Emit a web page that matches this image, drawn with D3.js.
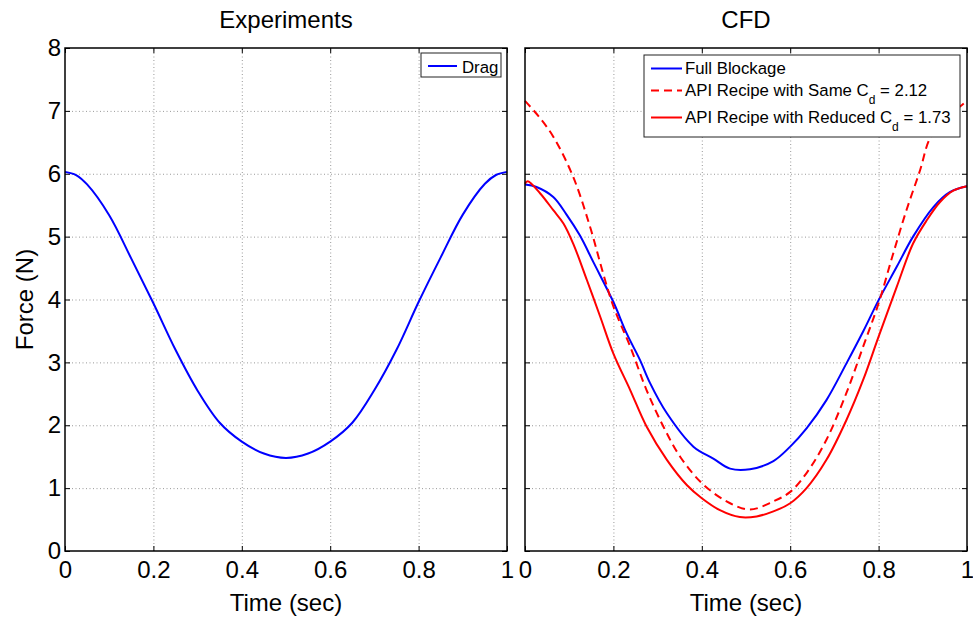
<!DOCTYPE html>
<html>
<head>
<meta charset="utf-8">
<script src="https://cdn.jsdelivr.net/npm/d3@7"></script>
<style>
  body { margin: 0; background: #fff; }
  svg { font-family: "Liberation Sans", Arial, sans-serif; }
  .grid line { stroke: #999; stroke-dasharray: 1,2.5; }
  .grid path { display: none; }
  .ax path { display: none; }
  .ax line { stroke: #000; }
  .ax text { font-size: 24px; fill: #000; }
</style>
</head>
<body>
<svg class="chart" width="973" height="620"></svg>
<script>
// ---- data ----
var expTime = [0, 0.025, 0.05, 0.1, 0.15, 0.2, 0.25, 0.3, 0.35, 0.4, 0.45, 0.5,
               0.55, 0.6, 0.65, 0.7, 0.75, 0.8, 0.85, 0.9, 0.95, 0.975, 1];
var expDrag = [6.03, 5.98, 5.83, 5.34, 4.65, 3.94, 3.2, 2.55, 2.04, 1.74, 1.55, 1.48,
               1.55, 1.74, 2.04, 2.56, 3.2, 3.96, 4.67, 5.35, 5.84, 5.98, 6.03];

var fullTime = [0, 0.026, 0.064, 0.094, 0.124, 0.155, 0.2, 0.23, 0.26, 0.283, 0.321, 0.381, 0.426,
                0.464, 0.509, 0.562, 0.6, 0.637, 0.682, 0.727, 0.765, 0.8, 0.841, 0.878, 0.924, 0.962, 1];
var fullForce = [5.83, 5.79, 5.63, 5.35, 5.02, 4.59, 3.96, 3.46, 3.04, 2.67, 2.19, 1.66, 1.47,
                 1.31, 1.30, 1.43, 1.66, 1.95, 2.40, 2.98, 3.49, 3.99, 4.52, 5.0, 5.47, 5.71, 5.80];

var sameTime = [0, 0.03, 0.064, 0.109, 0.147, 0.177, 0.2, 0.238, 0.275, 0.313, 0.351, 0.4, 0.456, 0.509,
                0.562, 0.6, 0.637, 0.682, 0.727, 0.765, 0.8, 0.833, 0.863, 0.894, 0.916, 0.95, 0.988, 1];
var sameForce = [7.16, 6.92, 6.59, 5.95, 5.16, 4.41, 3.89, 3.25, 2.56, 1.98, 1.50, 1.08, 0.79, 0.66,
                 0.79, 0.94, 1.24, 1.77, 2.51, 3.25, 3.94, 4.73, 5.42, 6.06, 6.56, 6.87, 7.09, 7.16];

var redTime = [0, 0.006, 0.034, 0.064, 0.087, 0.109, 0.14, 0.17, 0.2, 0.238, 0.275, 0.321, 0.366, 0.4, 0.441,
               0.486, 0.524, 0.562, 0.6, 0.637, 0.682, 0.727, 0.765, 0.8, 0.841, 0.878, 0.909, 0.939, 0.969, 1];
var redForce = [5.84, 5.88, 5.69, 5.42, 5.21, 4.89, 4.31, 3.73, 3.14, 2.56, 1.98, 1.45, 1.05, 0.84, 0.65,
                0.54, 0.55, 0.63, 0.76, 1.00, 1.45, 2.08, 2.72, 3.41, 4.20, 4.89, 5.26, 5.55, 5.73, 5.80];

var xTicks = [0, 0.2, 0.4, 0.6, 0.8, 1];
var yTicks = [0, 1, 2, 3, 4, 5, 6, 7, 8];

function zip(a, b){ return a.map(function(d, i){ return [d, b[i]]; }); }

var svg = d3.select("svg.chart");
var plotTop = 48, plotBottom = 551;
var y = d3.scaleLinear().domain([0, 8]).range([plotBottom, plotTop]);

function panel(x0, x1, title, showY, series){
  var x = d3.scaleLinear().domain([0, 1]).range([x0, x1]);
  var g = svg.append("g");

  // dotted grid
  g.append("g").attr("class", "grid")
    .attr("transform", "translate(0," + plotBottom + ")")
    .call(d3.axisBottom(x).tickValues(xTicks.slice(1, -1)).tickSize(-(plotBottom - plotTop)).tickFormat(""));
  g.append("g").attr("class", "grid")
    .attr("transform", "translate(" + x0 + ",0)")
    .call(d3.axisLeft(y).tickValues(yTicks.slice(1, -1)).tickSize(-(x1 - x0)).tickFormat(""));

  // ticks inward on every side, matlab style
  g.append("g").attr("class", "ax")
    .attr("transform", "translate(0," + plotBottom + ")")
    .call(d3.axisBottom(x).tickValues(xTicks).tickSize(-5).tickSizeOuter(0).tickPadding(10)
      .tickFormat(function(d){ return String(d); }));
  g.append("g").attr("class", "ax")
    .attr("transform", "translate(0," + plotTop + ")")
    .call(d3.axisTop(x).tickValues(xTicks).tickSize(-5).tickSizeOuter(0).tickFormat(""));
  g.append("g").attr("class", "ax")
    .attr("transform", "translate(" + x0 + ",0)")
    .call(d3.axisLeft(y).tickValues(yTicks).tickSize(-5).tickSizeOuter(0).tickPadding(4)
      .tickFormat(showY ? d3.format("d") : ""));
  g.append("g").attr("class", "ax")
    .attr("transform", "translate(" + x1 + ",0)")
    .call(d3.axisRight(y).tickValues(yTicks).tickSize(-5).tickSizeOuter(0).tickFormat(""));

  var line = d3.line()
    .x(function(d){ return x(d[0]); })
    .y(function(d){ return y(d[1]); })
    .curve(d3.curveCatmullRom.alpha(0.5));

  series.forEach(function(s){
    g.append("path")
      .attr("fill", "none")
      .attr("stroke", s.color)
      .attr("stroke-width", 2)
      .attr("stroke-dasharray", s.dash || null)
      .attr("d", line(s.data));
  });

  g.append("rect")
    .attr("x", x0).attr("y", plotTop)
    .attr("width", x1 - x0).attr("height", plotBottom - plotTop)
    .attr("fill", "none").attr("stroke", "#000").attr("stroke-width", 1.5);

  g.append("text")
    .attr("x", (x0 + x1) / 2).attr("y", 28)
    .attr("text-anchor", "middle").attr("font-size", 24)
    .text(title);

  g.append("text")
    .attr("x", (x0 + x1) / 2).attr("y", 611)
    .attr("text-anchor", "middle").attr("font-size", 24)
    .text("Time (sec)");

  return g;
}

panel(65, 507, "Experiments", true, [
  {data: zip(expTime, expDrag), color: "#0000ff"}
]);

panel(525, 967, "CFD", false, [
  {data: zip(fullTime, fullForce), color: "#0000ff"},
  {data: zip(sameTime, sameForce), color: "#ff0000", dash: "8,5"},
  {data: zip(redTime, redForce), color: "#ff0000"}
]);

svg.append("text")
  .attr("transform", "translate(33," + ((plotTop + plotBottom) / 2) + ") rotate(-90)")
  .attr("text-anchor", "middle").attr("font-size", 24)
  .text("Force (N)");

// legends
var lg1 = svg.append("g");
lg1.append("rect").attr("x", 421).attr("y", 53).attr("width", 80).attr("height", 24)
  .attr("fill", "#fff").attr("stroke", "#222");
lg1.append("line").attr("x1", 428).attr("x2", 457).attr("y1", 66).attr("y2", 66)
  .attr("stroke", "#0000ff").attr("stroke-width", 2);
lg1.append("text").attr("x", 462).attr("y", 73).attr("font-size", 16.8).text("Drag");

var legendItems = [
  {label: "Full Blockage", sub: null, rest: null, color: "#0000ff", dash: null, ly: 68.5, ty: 74},
  {label: "API Recipe with Same C", sub: "d", rest: " = 2.12", color: "#ff0000", dash: "8,5", ly: 90.5, ty: 95.5},
  {label: "API Recipe with Reduced C", sub: "d", rest: " = 1.73", color: "#ff0000", dash: null, ly: 117.5, ty: 122.5}
];
var lg2 = svg.append("g");
lg2.append("rect").attr("x", 644).attr("y", 55).attr("width", 316).attr("height", 82)
  .attr("fill", "#fff").attr("stroke", "#222");
legendItems.forEach(function(it){
  lg2.append("line").attr("x1", 651).attr("x2", 682).attr("y1", it.ly).attr("y2", it.ly)
    .attr("stroke", it.color).attr("stroke-width", 2).attr("stroke-dasharray", it.dash);
  var t = lg2.append("text").attr("x", 685).attr("y", it.ty).attr("font-size", 16.8);
  t.append("tspan").text(it.label);
  if (it.sub) {
    t.append("tspan").attr("dy", 8).attr("font-size", 12).text(it.sub);
    t.append("tspan").attr("dy", -8).text(it.rest);
  }
});
</script>
</body>
</html>
